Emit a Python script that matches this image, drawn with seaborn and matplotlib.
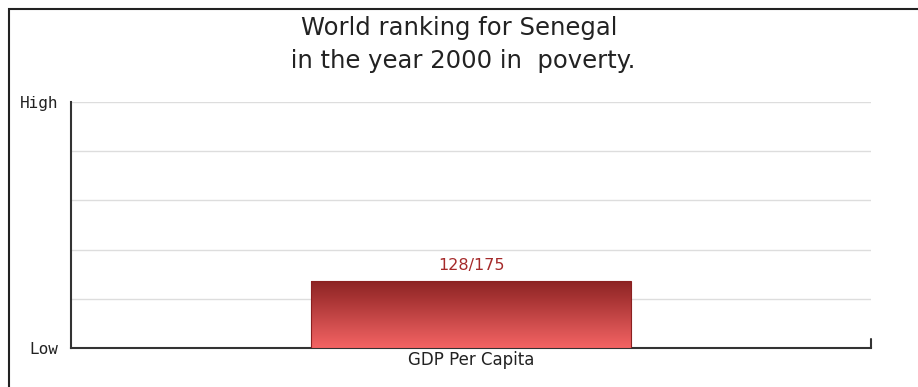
import numpy as np
import pandas as pd
import matplotlib
matplotlib.use("Agg")
import matplotlib.pyplot as plt
from matplotlib.colors import LinearSegmentedColormap
from matplotlib.patches import Rectangle
import seaborn as sns

# Ranking data
categories = ["GDP Per Capita"]
ranks = [128]
totals = [175]
value_labels = [f"{r}/{t}" for r, t in zip(ranks, totals)]
# Higher rank position -> taller bar (1 = best, scaled to 0..1)
scores = [(t - r + 1) / t for r, t in zip(ranks, totals)]

df = pd.DataFrame({"category": categories, "score": scores})

sns.set_theme(style="white")
plt.rcParams["font.family"] = ["DejaVu Sans"]

fig = plt.figure(figsize=(9.18, 3.87), dpi=100)
ax = fig.add_axes([71 / 918, 1 - 348 / 387, 800 / 918, 246 / 387])

sns.barplot(data=df, x="category", y="score", ax=ax, width=0.8,
            color="#c04040", edgecolor="#8b2020", linewidth=0.8, zorder=3)

ax.set_xlim(-1, 1)
ax.set_ylim(0, 1)

# vertical gradient fill for each bar
grad_cmap = LinearSegmentedColormap.from_list("redgrad", ["#f46464", "#8b2222"])
grad = np.linspace(0, 1, 256).reshape(-1, 1)
for patch in ax.patches:
    x0, y0 = patch.get_x(), patch.get_y()
    w, h = patch.get_width(), patch.get_height()
    im = ax.imshow(grad, cmap=grad_cmap, aspect="auto", origin="lower",
                   extent=[x0, x0 + w, y0, y0 + h], zorder=3.5)
    im.set_clip_path(patch)
    patch.set_facecolor("none")
    patch.set_zorder(4)

ax.set_xlim(-1, 1)
ax.set_ylim(0, 1)

# value labels above bars
for i, (s, lab) in enumerate(zip(scores, value_labels)):
    ax.text(i, s + 0.03, lab, ha="center", va="bottom",
            fontsize=11.5, color="#a52a2a", zorder=5)

# grid and axes
ax.set_yticks([0, 0.2, 0.4, 0.6, 0.8, 1.0])
ax.set_yticklabels(["Low", "", "", "", "", "High"],
                   fontfamily="DejaVu Sans Mono", fontsize=11.5, color="#222222")
ax.yaxis.grid(True, color="#dddddd", linewidth=1, zorder=0)
ax.xaxis.grid(False)
ax.set_xlabel("")
ax.set_ylabel("")
ax.tick_params(axis="x", labelsize=12, colors="#222222", length=0, pad=2)
ax.tick_params(axis="y", length=0, pad=9)
for side in ["top", "right"]:
    ax.spines[side].set_visible(False)
for side in ["left", "bottom"]:
    ax.spines[side].set_color("#333333")
    ax.spines[side].set_linewidth(1.5)
# end tick on the right of the baseline
ax.plot([1, 1], [0, 0.035], transform=ax.transAxes, color="#333333",
        linewidth=1.5, clip_on=False, zorder=6)

fig.text(0.5, 1 - 73 / 387, "World ranking for Senegal\n in the year 2000 in  poverty.",
         ha="center", va="bottom", fontsize=17.5, color="#222222",
         linespacing=1.5)

# outer frame
fig.patches.append(Rectangle((9 / 918, -0.05), 1.2, 1 - 9 / 387 + 0.05,
                             transform=fig.transFigure, fill=False,
                             edgecolor="#222222", linewidth=1.5))

fig.savefig("out.png", dpi=100)
